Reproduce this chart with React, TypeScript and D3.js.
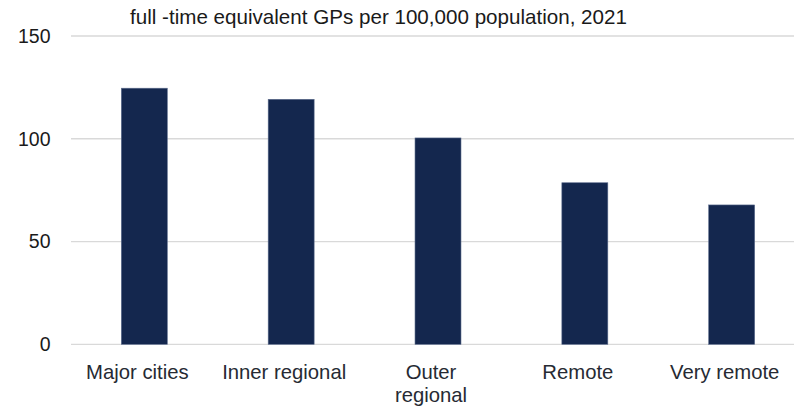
import React from "react";
import * as d3 from "d3";

const categories: string[][] = [
  ["Major cities"],
  ["Inner regional"],
  ["Outer", "regional"],
  ["Remote"],
  ["Very remote"],
];
const values: number[] = [124.6, 119.2, 100.4, 78.6, 67.8];
const yTicks: number[] = [0, 50, 100, 150];
const title = "full -time equivalent GPs per 100,000 population, 2021";

const W = 794;
const H = 408;
const FONT = "'Liberation Sans', Arial, sans-serif";

export default function App() {
  const keys = categories.map((c) => c.join(" "));
  const x = d3
    .scaleBand<string>()
    .domain(keys)
    .range([70.9, 805.1])
    .paddingInner(0.687)
    .paddingOuter(0.3435);
  const y = d3.scaleLinear().domain([0, 150]).range([344.3, 36]);

  return (
    <svg
      width={W}
      height={H}
      style={{ position: "absolute", left: 0, top: 0, background: "#fff" }}
      fontFamily={FONT}
    >
      <text x={378.5} y={23.5} textAnchor="middle" fontSize={20.6} fill="#1a1a1a">
        {title}
      </text>
      {yTicks.map((t) => (
        <g key={t}>
          <line x1={71} x2={W} y1={y(t)} y2={y(t)} stroke="#d9d9d9" strokeWidth={1.3} />
          <text x={50.5} y={y(t) + 6.8} textAnchor="end" fontSize={19.5} fill="#1a1a1a">
            {t}
          </text>
        </g>
      ))}
      {values.map((v, i) => (
        <rect
          key={keys[i]}
          x={x(keys[i])!}
          width={x.bandwidth()}
          y={y(v)}
          height={y(0) - y(v)}
          fill="#14274e"
          stroke="#5b6b8c"
          strokeWidth={0.6}
        />
      ))}
      {categories.map((lines, i) => {
        const cx = x(keys[i])! + x.bandwidth() / 2 - 7;
        return (
          <text key={keys[i]} x={cx} y={379} textAnchor="middle" fontSize={20.3} fill="#262a33">
            {lines.map((l, j) => (
              <tspan key={j} x={cx} dy={j === 0 ? 0 : 23}>
                {l}
              </tspan>
            ))}
          </text>
        );
      })}
    </svg>
  );
}
